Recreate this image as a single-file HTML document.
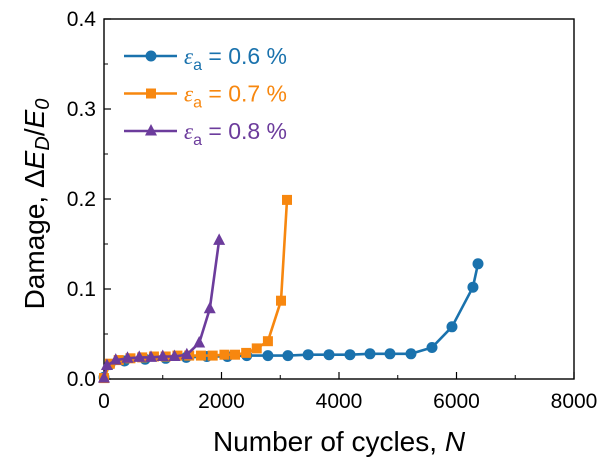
<!DOCTYPE html>
<html><head><meta charset="utf-8"><style>
body{margin:0;background:#fff;}
svg{display:block;font-family:"Liberation Sans",Arial,sans-serif;}
</style></head><body>
<svg id="chart" width="612" height="457" viewBox="0 0 612 457" xmlns="http://www.w3.org/2000/svg"></svg>
<script>
const xTicks=[0,2000,4000,6000,8000];
const yTicks=[0.0,0.1,0.2,0.3,0.4];
const yTickLabels=["0.0","0.1","0.2","0.3","0.4"];
const s06x=[0,100,350,700,1050,1400,1750,2100,2430,2790,3130,3475,3830,4187,4528,4868,5225,5583,5923,6280,6366];
const s06y=[0.002,0.016,0.020,0.022,0.023,0.024,0.025,0.025,0.026,0.026,0.026,0.027,0.027,0.027,0.028,0.028,0.028,0.035,0.058,0.102,0.128];
const s07x=[0,100,250,450,650,850,1050,1250,1450,1650,1850,2050,2230,2420,2600,2790,3013,3115];
const s07y=[0.001,0.017,0.021,0.023,0.024,0.025,0.025,0.026,0.026,0.026,0.026,0.027,0.027,0.029,0.034,0.042,0.087,0.199];
const s08x=[0,50,200,400,600,800,1000,1200,1410,1620,1800,1960];
const s08y=[0.001,0.015,0.021,0.023,0.024,0.024,0.025,0.025,0.027,0.040,0.078,0.154];
const names=["0.6 %","0.7 %","0.8 %"];
const X0=104,X1=574,Y0=379,Y1=19;
const xs=v=>X0+(v/8000)*(X1-X0);
const ys=v=>Y0-(v/0.4)*(Y0-Y1);
const svg=document.getElementById('chart');
const NS="http://www.w3.org/2000/svg";
function mk(t,a,p){const e=document.createElementNS(NS,t);for(const k in a)e.setAttribute(k,a[k]);(p||svg).appendChild(e);return e;}
const box=mk('rect',{x:X0,y:Y1,width:X1-X0,height:Y0-Y1,fill:'none',stroke:'#000','stroke-width':1.4});


xTicks.forEach((t,i)=>{
  const x=xs(t);
  const l=mk('line',{x1:x,x2:x,y1:Y0,y2:Y0-7,stroke:'#000','stroke-width':1.2});
  
  
  if(i<xTicks.length-1){const m=mk('line',{x1:xs(t+1000),x2:xs(t+1000),y1:Y0,y2:Y0-4,stroke:'#000','stroke-width':1});
  
  }
  const tx=mk('text',{x:x,y:Y0+29,'text-anchor':'middle','font-size':21});tx.textContent=t;
  
  
});
yTicks.forEach((t,i)=>{
  const y=ys(t);
  const l=mk('line',{x1:X0,x2:X0+7,y1:y,y2:y,stroke:'#000','stroke-width':1.2});
  
  
  if(i<yTicks.length-1){const m=mk('line',{x1:X0,x2:X0+4,y1:ys(t+0.05),y2:ys(t+0.05),stroke:'#000','stroke-width':1});
  
  }
  const tx=mk('text',{x:X0-8,y:y+7,'text-anchor':'end','font-size':21});tx.textContent=yTickLabels[i];
  
  
});
const xt=mk('text',{x:339,y:451,'text-anchor':'middle','font-size':28});
xt.innerHTML='Number of cycles, <tspan font-style="italic">N</tspan>';


const yt=mk('text',{x:0,y:0,'text-anchor':'middle','font-size':28,transform:'translate(44,204) rotate(-90)'});
yt.innerHTML='Damage, Δ<tspan font-style="italic">E</tspan><tspan font-style="italic" font-size="20" dy="5">D</tspan><tspan dy="-5">/</tspan><tspan font-style="italic">E</tspan><tspan font-style="italic" font-size="20" dy="5">0</tspan>';


const series=[[s06x,s06y,'#1a72ad','circle'],[s07x,s07y,'#f7870f','square'],[s08x,s08y,'#6c3c9c','triangle']];
function marker(g,type,x,y,c){
  let e;
  if(type==='circle')e=mk('circle',{cx:x,cy:y,r:5.5,fill:c},g);
  else if(type==='square')e=mk('rect',{x:x-5,y:y-5,width:10,height:10,fill:c},g);
  else e=mk('polygon',{points:`${x},${y-7} ${x-6},${y+4.5} ${x+6},${y+4.5}`,fill:c},g);
  return e;
}
series.forEach((s,k)=>{
  const g=mk('g',{});
  
  
  const d=s[0].map((v,i)=>(i?'L':'M')+xs(v).toFixed(1)+','+ys(s[1][i]).toFixed(1)).join(' ');
  const p=mk('path',{d:d,fill:'none',stroke:s[2],'stroke-width':2.6,'stroke-linejoin':'round'},g);
  
  
  s[0].forEach((v,i)=>{const m=marker(g,s[3],xs(v),ys(s[1][i]),s[2]);
    
    });
  const ly=56+k*37.5;
  const lg=mk('g',{});
  
  
  mk('line',{x1:124,x2:177,y1:ly,y2:ly,stroke:s[2],'stroke-width':2.6},lg);
  marker(lg,s[3],151,ly,s[2]);
  const t=mk('text',{x:184,y:ly+8,'font-size':23,fill:s[2]},lg);
  t.innerHTML='<tspan font-style="italic" font-family="Liberation Serif">ε</tspan><tspan font-size="16" dy="6">a</tspan><tspan dy="-6"> = '+names[k]+'</tspan>';
});
</script>
</body></html>
